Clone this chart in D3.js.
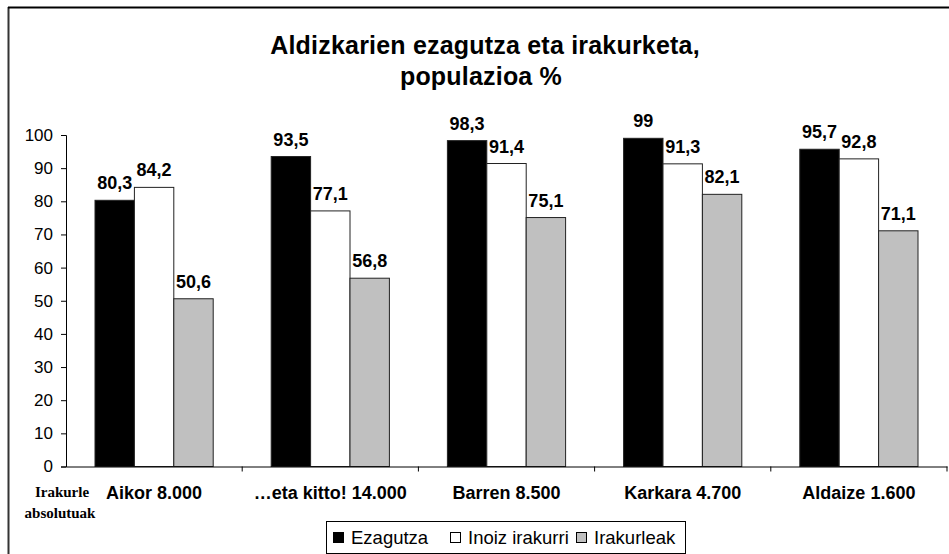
<!DOCTYPE html>
<html>
<head>
<meta charset="utf-8">
<script src="https://d3js.org/d3.v7.min.js"></script>
<style>
  body { margin: 0; background: #fff; }
  text { font-family: Arial, "Liberation Sans", sans-serif; }
</style>
</head>
<body>
<svg id="chart" width="949" height="554"></svg>
<script>
// data
const categories = ["Aikor 8.000", "\u2026eta kitto! 14.000", "Barren 8.500", "Karkara 4.700", "Aldaize 1.600"];
const seriesNames = ["Ezagutza", "Inoiz irakurri", "Irakurleak"];
const ezagutza = [80.3, 93.5, 98.3, 99, 95.7];
const inoizIrakurri = [84.2, 77.1, 91.4, 91.3, 92.8];
const irakurleak = [50.6, 56.8, 75.1, 82.1, 71.1];
const yTicks = [0, 10, 20, 30, 40, 50, 60, 70, 80, 90, 100];
const colors = ["#000000", "#ffffff", "#c0c0c0"];

const svg = d3.select("#chart");
const margin = { left: 66, right: 2, top: 135, bottom: 88 };

// frame (left and top only are visible)
svg.append("line").attr("x1", 8.5).attr("x2", 8.5).attr("y1", 7).attr("y2", 554).attr("stroke", "#333").attr("stroke-width", 2);
svg.append("line").attr("x1", 8).attr("x2", 949).attr("y1", 7.5).attr("y2", 7.5).attr("stroke", "#000").attr("stroke-width", 2);

// title
const title = svg.append("text").attr("text-anchor", "middle").attr("font-weight", "bold").attr("font-size", 25)
  .attr("letter-spacing", 0.2);
title.append("tspan").attr("x", 485).attr("y", 54).text("Aldizkarien ezagutza eta irakurketa,");
title.append("tspan").attr("x", 481).attr("y", 85).text("populazioa %");

const x0 = d3.scaleBand().domain(categories).range([margin.left, 947]).paddingInner(0).paddingOuter(0);
const x1 = d3.scaleBand().domain(seriesNames).range([29, x0.bandwidth() - 29]);
const y = d3.scaleLinear().domain([0, 100]).range([466.5, 135]);

const rows = categories.map((c, i) => ({
  cat: c,
  vals: [ezagutza[i], inoizIrakurri[i], irakurleak[i]]
}));

// bars
const groups = svg.append("g").selectAll("g").data(rows).join("g")
  .attr("transform", d => `translate(${x0(d.cat)},0)`);

groups.selectAll("rect").data(d => d.vals.map((v, k) => ({ v, k }))).join("rect")
  .attr("x", d => x1(seriesNames[d.k]))
  .attr("width", x1.bandwidth())
  .attr("y", d => y(d.v))
  .attr("height", d => y(0) - y(d.v))
  .attr("fill", d => colors[d.k])
  .attr("stroke", "#222")
  .attr("stroke-width", 1);

groups.selectAll("text.val").data(d => d.vals.map((v, k) => ({ v, k }))).join("text")
  .attr("class", "val")
  .attr("x", d => x1(seriesNames[d.k]) + x1.bandwidth() / 2)
  .attr("y", d => y(d.v) - 11)
  .attr("text-anchor", "middle")
  .attr("font-weight", "bold")
  .attr("font-size", 18)
  .text(d => String(d.v).replace(".", ","));

// y axis
const yAxis = d3.axisLeft(y).tickValues(yTicks).tickSize(5).tickPadding(8).tickFormat(d3.format("d"));
const gy = svg.append("g").attr("transform", `translate(${margin.left},0)`).call(yAxis);
gy.select(".domain").attr("stroke", "#000");
gy.selectAll(".tick line").attr("stroke", "#000");
gy.selectAll(".tick text").attr("font-size", 17)
  .attr("font-family", "Arial, 'Liberation Sans', sans-serif").attr("fill", "#000");

// x axis
const xAxis = d3.axisBottom(x0).tickSize(0).tickFormat("");
const gx = svg.append("g").attr("transform", `translate(0,${y(0)})`).call(xAxis);
gx.select(".domain").attr("stroke", "#000");
const bounds = categories.map(c => x0(c) + x0.bandwidth());
svg.append("g").selectAll("line").data(bounds).join("line")
  .attr("x1", d => d).attr("x2", d => d)
  .attr("y1", y(0)).attr("y2", y(0) + 5)
  .attr("stroke", "#000");

svg.append("g").selectAll("text").data(categories).join("text")
  .attr("x", d => x0(d) + x0.bandwidth() / 2)
  .attr("y", 499)
  .attr("text-anchor", "middle")
  .attr("font-weight", "bold")
  .attr("font-size", 18)
  .text(d => d);

// left note
const note = svg.append("text").attr("text-anchor", "middle").attr("font-weight", "bold").attr("font-size", 15)
  .style("font-family", "'Liberation Serif', 'Times New Roman', serif");
note.append("tspan").attr("x", 62).attr("y", 497).text("Irakurle");
note.append("tspan").attr("x", 60).attr("y", 518).text("absolutuak");

// legend
const legend = svg.append("g").attr("transform", "translate(326,521)");
legend.append("rect").attr("x", 0.5).attr("y", 0.5).attr("width", 359).attr("height", 32).attr("fill", "#fff").attr("stroke", "#000");
const legendX = [7, 124, 250];
seriesNames.forEach((s, k) => {
  legend.append("rect").attr("x", legendX[k] + 0.5).attr("y", 11.5).attr("width", 10).attr("height", 10)
    .attr("fill", colors[k]).attr("stroke", "#000");
  legend.append("text").attr("x", legendX[k] + 18).attr("y", 23).attr("font-size", 18.5).text(s);
});
</script>
</body>
</html>
